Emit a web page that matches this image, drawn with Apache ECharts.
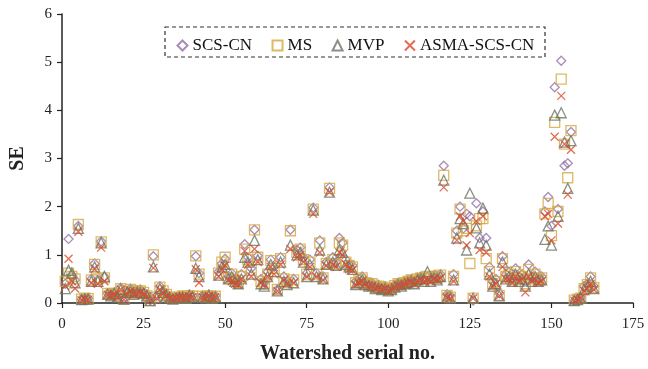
<!DOCTYPE html>
<html><head><meta charset="utf-8">
<script src="https://cdn.jsdelivr.net/npm/echarts@6/dist/echarts.min.js"></script>
<style>html,body{margin:0;padding:0;background:#fff}#c{width:648px;height:369px}</style>
</head><body><div id="c"></div>
<script>
const seriesNames = ['SCS-CN','MS','MVP','ASMA-SCS-CN'];
const xTicks = [0,25,50,75,100,125,150,175];
const yTicks = [0,1,2,3,4,5,6];
const scsCN = [0.40,1.33,0.58,0.48,1.60,0.08,0.10,0.10,0.50,0.82,0.48,1.28,0.55,0.20,0.18,0.22,0.15,0.32,0.10,0.25,
0.30,0.22,0.25,0.28,0.22,0.18,0.05,0.97,0.15,0.35,0.25,0.20,0.12,0.10,0.12,0.14,0.15,0.12,0.18,0.15,
0.97,0.62,0.15,0.12,0.18,0.12,0.15,0.65,0.82,0.92,0.55,0.62,0.50,0.45,0.60,1.22,0.95,0.72,1.52,0.98,
0.50,0.42,0.65,0.90,0.75,0.28,0.95,0.55,0.45,1.52,0.50,1.10,1.15,0.95,0.62,0.90,1.98,0.62,1.30,0.55,
0.85,2.40,0.95,0.85,1.35,1.25,0.90,0.80,0.78,0.45,0.50,0.55,0.45,0.40,0.42,0.35,0.38,0.32,0.35,0.30,
0.32,0.38,0.42,0.40,0.45,0.48,0.50,0.45,0.52,0.55,0.50,0.55,0.52,0.58,0.55,0.60,2.85,0.18,0.15,0.60,
1.50,2.00,1.55,1.85,1.80,0.05,2.07,1.35,1.90,1.35,0.75,0.45,0.50,0.20,0.97,0.60,0.65,0.50,0.72,0.55,
0.60,0.45,0.80,0.55,0.65,0.50,0.55,1.90,2.20,1.60,4.48,1.95,5.03,2.85,2.90,3.55,0.05,0.08,0.12,0.35,
0.40,0.55,0.35];
const ms = [0.45,0.62,0.55,0.50,1.63,0.08,0.10,0.09,0.48,0.80,0.50,1.27,0.52,0.20,0.17,0.20,0.15,0.30,0.08,0.22,
0.28,0.20,0.25,0.25,0.22,0.15,0.05,1.00,0.12,0.33,0.25,0.18,0.12,0.10,0.10,0.12,0.15,0.10,0.15,0.14,
0.98,0.60,0.14,0.12,0.15,0.10,0.14,0.62,0.85,0.95,0.52,0.60,0.48,0.42,0.55,1.12,0.90,0.68,1.52,0.95,
0.45,0.40,0.60,0.88,0.72,0.28,0.92,0.50,0.42,1.50,0.48,1.05,1.12,0.90,0.60,0.85,1.95,0.60,1.25,0.52,
0.82,2.38,0.90,0.80,1.25,1.20,0.85,0.78,0.75,0.42,0.48,0.52,0.42,0.38,0.40,0.33,0.35,0.30,0.33,0.28,
0.30,0.36,0.40,0.38,0.42,0.45,0.48,0.44,0.50,0.52,0.50,0.55,0.50,0.55,0.52,0.58,2.65,0.16,0.12,0.55,
1.45,1.95,1.50,1.55,0.82,0.10,1.60,1.75,1.75,0.92,0.65,0.40,0.45,0.16,0.92,0.55,0.60,0.48,0.65,0.50,
0.55,0.40,0.70,0.50,0.60,0.48,0.52,1.85,2.07,1.40,3.75,1.90,4.65,3.30,2.60,3.58,0.06,0.08,0.10,0.30,
0.38,0.52,0.32];
const mvp = [0.30,0.68,0.62,0.42,1.55,0.07,0.08,0.08,0.45,0.75,0.45,1.25,0.55,0.18,0.15,0.20,0.12,0.28,0.08,0.22,
0.25,0.18,0.22,0.22,0.20,0.15,0.05,0.75,0.10,0.30,0.22,0.15,0.10,0.08,0.10,0.12,0.12,0.10,0.15,0.12,
0.72,0.55,0.12,0.10,0.15,0.10,0.12,0.58,0.75,0.80,0.50,0.55,0.45,0.40,0.50,0.95,0.85,0.60,1.30,0.90,
0.40,0.35,0.55,0.80,0.65,0.25,0.85,0.45,0.38,1.20,0.42,1.00,1.05,0.85,0.55,0.80,1.93,0.55,1.10,0.50,
0.80,2.30,0.85,0.78,1.10,1.05,0.80,0.75,0.70,0.38,0.42,0.48,0.38,0.35,0.36,0.30,0.32,0.28,0.30,0.25,
0.28,0.33,0.38,0.35,0.40,0.42,0.45,0.40,0.48,0.50,0.45,0.65,0.45,0.52,0.48,0.55,2.55,0.12,0.10,0.48,
1.35,1.75,1.65,1.10,2.28,0.10,1.56,1.25,1.97,1.20,0.60,0.35,0.40,0.15,0.85,0.50,0.55,0.45,0.60,0.45,
0.50,0.35,0.60,0.45,0.55,0.45,0.48,1.32,1.60,1.20,3.90,1.80,3.95,3.34,2.38,3.37,0.05,0.07,0.10,0.28,
0.35,0.45,0.30];
const asma = [0.35,0.92,0.45,0.30,1.48,0.06,0.08,0.07,0.42,0.70,0.40,1.15,0.45,0.17,0.15,0.18,0.12,0.28,0.07,0.20,
0.25,0.18,0.20,0.22,0.18,0.14,0.05,0.73,0.10,0.28,0.20,0.15,0.10,0.08,0.10,0.12,0.12,0.10,0.14,0.12,
0.70,0.42,0.12,0.10,0.15,0.10,0.12,0.55,0.70,0.78,0.48,0.45,0.40,0.38,0.50,1.08,0.80,0.55,1.12,0.85,
0.42,0.38,0.55,0.75,0.60,0.25,0.80,0.48,0.40,1.12,0.42,0.95,1.00,0.85,0.55,0.75,1.85,0.55,1.05,0.48,
0.78,2.30,0.80,0.75,1.05,1.00,0.80,0.70,0.68,0.38,0.42,0.45,0.38,0.35,0.36,0.30,0.32,0.28,0.30,0.25,
0.28,0.33,0.36,0.35,0.40,0.42,0.44,0.40,0.46,0.48,0.45,0.48,0.45,0.50,0.48,0.52,2.40,0.12,0.10,0.45,
1.30,1.80,1.70,1.20,1.45,0.10,1.70,1.10,1.80,1.05,0.55,0.35,0.40,0.15,0.75,0.50,0.50,0.42,0.55,0.45,
0.50,0.22,0.55,0.45,0.50,0.42,0.45,1.80,1.85,1.30,3.45,1.65,4.30,3.30,2.25,3.18,0.05,0.07,0.10,0.25,
0.30,0.40,0.28];
const serial = scsCN.map((_, i) => i + 1);

const colors = ['#9270A6','#D4A73E','#6A7564','#D9482B'];
const symbols = ['diamond','rect','triangle','path://M0,0L10,10M10,0L0,10'];
const sizes = [9,10,10,8];
const all = [scsCN, ms, mvp, asma];
const FONT = '"Liberation Serif", "Times New Roman", serif';

const chart = echarts.init(document.getElementById('c'));
chart.setOption({
  animation: false,
  textStyle: {fontFamily: FONT},
  grid: {left: 59, right: 15, top: 14, bottom: 63, containLabel: false},
  legend: {
    left: 170, top: 32, itemWidth: 10, itemHeight: 10, itemGap: 18,
    textStyle: {fontFamily: FONT, fontSize: 17, color: '#111'},
    data: seriesNames
  },
  graphic: [{type: 'rect', shape: {x: 165, y: 27, width: 380, height: 30},
    style: {fill: 'none', stroke: '#333', lineWidth: 1.2, lineDash: [4, 3]}}],
  xAxis: {
    type: 'value', min: xTicks[0], max: xTicks[xTicks.length-1], interval: 25,
    name: 'Watershed serial no.', nameLocation: 'middle', nameGap: 41,
    nameTextStyle: {fontFamily: FONT, fontSize: 20, fontWeight: 'bold', color: '#222'},
    axisLine: {lineStyle: {color: '#222', width: 1.5}},
    axisTick: {show: true, length: 5, lineStyle: {color: '#222', width: 1.2}},
    axisLabel: {fontFamily: FONT, fontSize: 15, color: '#222', margin: 14},
    splitLine: {show: false}
  },
  yAxis: {
    type: 'value', min: yTicks[0], max: yTicks[yTicks.length-1], interval: 1,
    name: 'SE', nameLocation: 'middle', nameGap: 34, nameRotate: 90,
    nameTextStyle: {fontFamily: FONT, fontSize: 20, fontWeight: 'bold', color: '#222'},
    axisLine: {show: true, lineStyle: {color: '#222', width: 1.5}},
    axisTick: {show: true, length: 5, lineStyle: {color: '#222', width: 1.2}},
    axisLabel: {fontFamily: FONT, fontSize: 15, color: '#222', margin: 10},
    splitLine: {show: false}
  },
  series: seriesNames.map((n, k) => ({
    name: n, type: 'scatter',
    symbol: symbols[k], symbolSize: sizes[k],
    itemStyle: {color: 'none', borderColor: colors[k], borderWidth: 1.3},
    data: all[k].map((v, i) => [serial[i], v])
  }))
});
</script></body></html>
